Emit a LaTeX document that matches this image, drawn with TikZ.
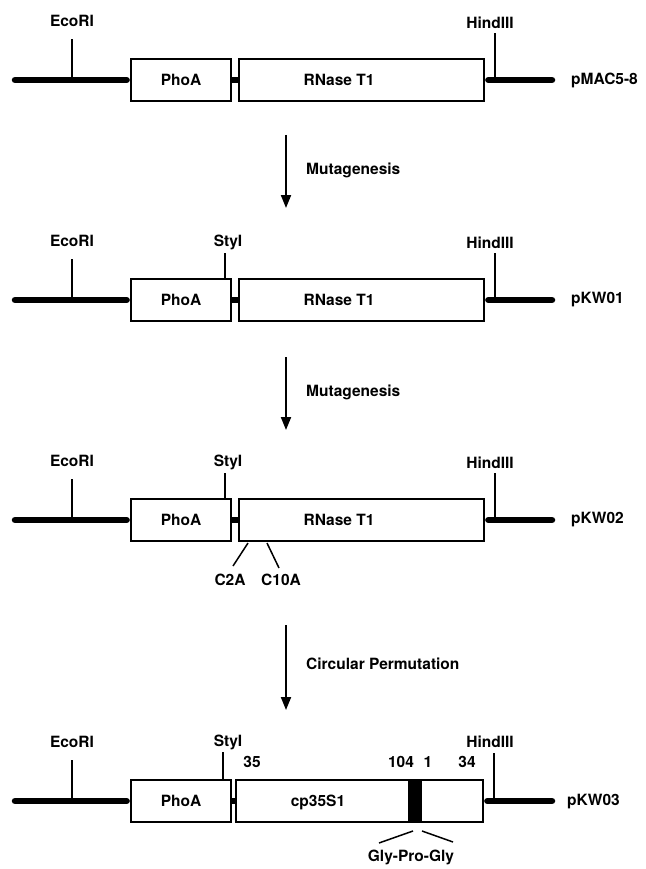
\documentclass[tikz,border=0pt]{standalone}
\usepackage{fontspec}
\setmainfont{TeX Gyre Heros}
\usetikzlibrary{arrows.meta}
\begin{document}
\begin{tikzpicture}[x=1pt,y=1pt,
  font=\fontsize{15.5}{18}\selectfont\bfseries,
  dna/.style={line width=6.5pt, line cap=round},
  gbox/.style={draw, fill=white, line width=2.8pt, minimum height=42pt, inner sep=0pt},
  tickln/.style={line width=1.1pt},
  thinln/.style={line width=1.5pt},
  arr/.style={line width=2pt, -{Triangle[width=10pt,length=13pt]}},
  lbl/.style={inner sep=0pt}]
\useasboundingbox (0,0) rectangle (645,-869);

% ---------- Row 1 (y=-80)
\node[lbl] (eco1) at (72,-21) {EcoRI};
\node[lbl] (hin1) at (490,-23) {HindIII};
\node[gbox, minimum width=100pt] (pho1) at (181,-80) {PhoA};
\node[gbox, minimum width=245pt] (rn1) at (361.5,-80) {};
\node[lbl] (rt1) at (339,-80) {RNase T1};
\node[lbl, anchor=west] (nm1) at (571,-80) {pMAC5-8};
\coordinate (a1) at (15,-80); \coordinate (b1) at (552,-80);
\draw[dna, shorten >=3pt] (a1) -- (pho1.west);
\draw[dna, line cap=butt] (pho1.east) -- (rn1.west);
\draw[dna, shorten <=3pt] (rn1.east) -- (b1);
\coordinate (e1b) at (72,-80); \coordinate (e1t) at (72,-39);
\coordinate (h1b) at (495,-80); \coordinate (h1t) at (495,-33);
\draw[tickln] (e1b) -- (e1t);
\draw[tickln] (h1b) -- (h1t);

% ---------- Arrow 1
\coordinate (s1) at (286,-135); \coordinate (t1) at (286,-208);
\draw[arr] (s1) -- (t1);
\node[lbl, anchor=west] (mu1) at (306,-170) {Mutagenesis};

% ---------- Row 2 (y=-300)
\node[lbl] (eco2) at (72,-241) {EcoRI};
\node[lbl] (sty2) at (228,-242) {StyI};
\node[lbl] (hin2) at (490,-243) {HindIII};
\node[gbox, minimum width=100pt] (pho2) at (181,-300) {PhoA};
\node[gbox, minimum width=245pt] (rn2) at (361.5,-300) {};
\node[lbl] (rt2) at (339,-300) {RNase T1};
\node[lbl, anchor=west] (nm2) at (571,-300) {pKW01};
\coordinate (a2) at (15,-300); \coordinate (b2) at (552,-300);
\draw[dna, shorten >=3pt] (a2) -- (pho2.west);
\draw[dna, line cap=butt] (pho2.east) -- (rn2.west);
\draw[dna, shorten <=3pt] (rn2.east) -- (b2);
\coordinate (e2b) at (72,-300); \coordinate (e2t) at (72,-259);
\coordinate (y2b) at (225,-279); \coordinate (y2t) at (225,-253);
\coordinate (h2b) at (495,-300); \coordinate (h2t) at (495,-253);
\draw[tickln] (e2b) -- (e2t);
\draw[tickln] (y2b) -- (y2t);
\draw[tickln] (h2b) -- (h2t);

% ---------- Arrow 2
\coordinate (s2) at (286,-357); \coordinate (t2) at (286,-430);
\draw[arr] (s2) -- (t2);
\node[lbl, anchor=west] (mu2) at (306,-392) {Mutagenesis};

% ---------- Row 3 (y=-520)
\node[lbl] (eco3) at (72,-461) {EcoRI};
\node[lbl] (sty3) at (228,-462) {StyI};
\node[lbl] (hin3) at (490,-463) {HindIII};
\node[gbox, minimum width=100pt] (pho3) at (181,-520) {PhoA};
\node[gbox, minimum width=245pt] (rn3) at (361.5,-520) {};
\node[lbl] (rt3) at (339,-520) {RNase T1};
\node[lbl, anchor=west] (nm3) at (571,-520) {pKW02};
\coordinate (a3) at (15,-520); \coordinate (b3) at (552,-520);
\draw[dna, shorten >=3pt] (a3) -- (pho3.west);
\draw[dna, line cap=butt] (pho3.east) -- (rn3.west);
\draw[dna, shorten <=3pt] (rn3.east) -- (b3);
\coordinate (e3b) at (72,-520); \coordinate (e3t) at (72,-479);
\coordinate (y3b) at (225,-499); \coordinate (y3t) at (225,-473);
\coordinate (h3b) at (495,-520); \coordinate (h3t) at (495,-473);
\draw[tickln] (e3b) -- (e3t);
\draw[tickln] (y3b) -- (y3t);
\draw[tickln] (h3b) -- (h3t);
\node[lbl] (c2a) at (230,-580) {C2A};
\node[lbl] (c10a) at (281,-580) {C10A};
\coordinate (c2t) at (248,-543); \coordinate (c2e) at (233,-566);
\coordinate (c10t) at (267,-543); \coordinate (c10e) at (279,-568);
\draw[thinln] (c2t) -- (c2e);
\draw[thinln] (c10t) -- (c10e);

% ---------- Arrow 3
\coordinate (s3) at (286,-625); \coordinate (t3) at (286,-710);
\draw[arr] (s3) -- (t3);
\node[lbl, anchor=west] (cp) at (306,-664) {Circular Permutation};

% ---------- Row 4 (y=-801)
\node[lbl] (eco4) at (72,-742) {EcoRI};
\node[lbl] (sty4) at (228,-742) {StyI};
\node[lbl] (hin4) at (490,-742) {HindIII};
\node[gbox, minimum width=100pt] (pho4) at (181,-801) {PhoA};
\node[gbox, minimum width=247pt] (rn4) at (359.5,-801) {};
\node[fill=black, minimum width=14pt, minimum height=42pt, inner sep=0pt] (bar) at (415,-801) {};
\node[lbl] (cpl) at (318,-802) {cp35S1};
\node[lbl] (n35) at (252,-762) {35};
\node[lbl] (n104) at (401,-762) {104};
\node[lbl] (n1) at (428,-762) {1};
\node[lbl] (n34) at (467,-762) {34};
\node[lbl, anchor=west] (nm4) at (567,-802) {pKW03};
\coordinate (a4) at (15,-801); \coordinate (b4) at (552,-801);
\draw[dna, shorten >=3pt] (a4) -- (pho4.west);
\draw[dna, line cap=butt] (pho4.east) -- (rn4.west);
\draw[dna, shorten <=3pt] (rn4.east) -- (b4);
\coordinate (e4b) at (72,-801); \coordinate (e4t) at (72,-760);
\coordinate (y4b) at (223,-780); \coordinate (y4t) at (223,-752);
\coordinate (h4b) at (494,-801); \coordinate (h4t) at (494,-753);
\draw[tickln] (e4b) -- (e4t);
\draw[tickln] (y4b) -- (y4t);
\draw[tickln] (h4b) -- (h4t);
\node[lbl] (gpg) at (411,-857) {Gly-Pro-Gly};
\coordinate (g1a) at (413,-831); \coordinate (g1b) at (379,-843);
\coordinate (g2a) at (422,-831); \coordinate (g2b) at (453,-842);
\draw[thinln] (g1a) -- (g1b);
\draw[thinln] (g2a) -- (g2b);
\end{tikzpicture}
\end{document}
